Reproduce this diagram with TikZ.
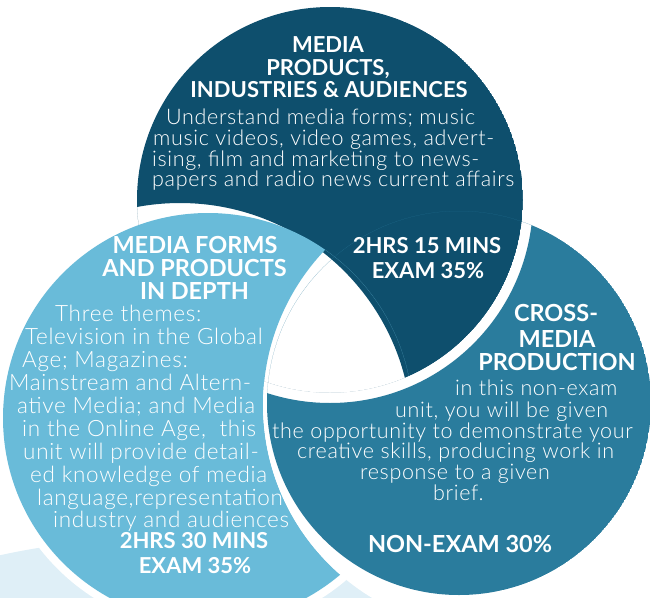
\documentclass[tikz,border=0pt]{standalone}
\usepackage{fontspec}
\setmainfont{Lato}
\newfontfamily\bodyfont[LetterSpace=3]{Lato Light}
\newfontfamily\headfont{Lato Bold}
\definecolor{darkc}{HTML}{0E4F6D}
\definecolor{medc}{HTML}{2A7C9D}
\definecolor{lightc}{HTML}{69BBD9}
\definecolor{palec}{HTML}{DFEFF7}
\begin{document}
\begin{tikzpicture}[x=1pt,y=-1pt,
  hd/.style={text=white,font=\headfont\fontsize{22pt}{22pt}\selectfont,anchor=base,inner sep=0pt},
  hdl/.style={text=white,font=\headfont\fontsize{23.5pt}{23.5pt}\selectfont,anchor=base,inner sep=0pt},
  bd/.style={text=white,font=\bodyfont\fontsize{21.5pt}{21.5pt}\selectfont,anchor=base west,inner sep=0pt},
  bdl/.style={text=white,font=\bodyfont\fontsize{22.5pt}{22.5pt}\selectfont,anchor=base west,inner sep=0pt}]
\useasboundingbox (0,0) rectangle (650,597);
% pale background shape
\fill[palec] (150,1233) circle (694pt);
\fill[white] (208,418) circle (213pt);
% dark (top) = A minus C*
\begin{scope}
  \clip (330,200) circle (193pt);
  \fill[darkc, even odd rule] (330,200) circle (193pt) (180,435) circle (232pt);
\end{scope}
% light (left) = C minus B*
\begin{scope}
  \clip (208,418) circle (205pt);
  \fill[lightc, even odd rule] (208,418) circle (205pt) (488,405) circle (225pt);
\end{scope}
% top texts
\node[hd] (a1) at (328,52) {MEDIA};
\node[hd] (a2) at (328,75) {PRODUCTS,};
\node[hd] (a3) at (329,97) {INDUSTRIES \& AUDIENCES};
\node[bd] (a4) at (166,124) {Understand media forms; music};
\node[bd] (a5) at (153,145) {music videos, video games, advert-};
\node[bd] (a6) at (152,166) {ising, film and marketing to news-};
\node[bd] (a7) at (152,186) {papers and radio news current affairs};
\node[hd] (a8) at (427,253) {2HRS 15 MINS};
\node[hd] (a9) at (428,278) {EXAM 35\%};
% left texts
\node[hdl] (c1) at (195,253) {MEDIA FORMS};
\node[hdl] (c2) at (194.5,276) {AND PRODUCTS};
\node[hdl] (c3) at (194.5,299) {IN DEPTH};
\node[bdl] (c4) at (55,321) {Three themes:};
\node[bdl] (c5) at (25,344) {Television in the Global};
\node[bdl] (c6) at (22,367) {Age; Magazines:};
\node[bdl] (c7) at (9,390) {Mainstream and Altern-};
\node[bdl] (c8) at (17,413) {ative Media; and Media};
\node[bdl] (c9) at (22,436) {in the Online Age,\ \ this};
\node[bdl] (c10) at (23,459) {unit will provide detail-};
\node[bdl] (c11) at (30,482) {ed knowledge of media};
\node[bdl] (c12) at (37,505) {language,representation};
\node[bdl] (c13) at (53,527) {industry and audiences};
\node[hd] (c14) at (194,548) {2HRS 30 MINS};
\node[hd] (c15) at (195,573) {EXAM 35\%};
% white gap round the right circle (outside the top circle)
\begin{scope}[even odd rule]
  \clip (-20,-20) rectangle (700,700) (330,200) circle (193pt);
  \fill[white] (488,405) circle (225pt);
\end{scope}
% medium (right) = B minus A*
\begin{scope}
  \clip (459,403) circle (192pt);
  \fill[medc, even odd rule] (459,403) circle (192pt) (330,200) circle (203pt);
\end{scope}
% right texts
\node[hdl] (b1) at (556,321) {CROSS-};
\node[hdl] (b2) at (557,347) {MEDIA};
\node[hdl] (b3) at (557,370) {PRODUCTION};
\node[bd] (b4) at (455,395) {in this non-exam};
\node[bd] (b5) at (395,417) {unit, you will be given};
\node[bd] (b6) at (272,438) {the opportunity to demonstrate your};
\node[bd] (b7) at (297,458.5) {creative skills, producing work in};
\node[bd] (b8) at (360,479) {response to a given};
\node[bd] (b9) at (433,500) {brief.};
\node[hdl] (b10) at (460,552) {NON-EXAM 30\%};
\end{tikzpicture}
\end{document}
